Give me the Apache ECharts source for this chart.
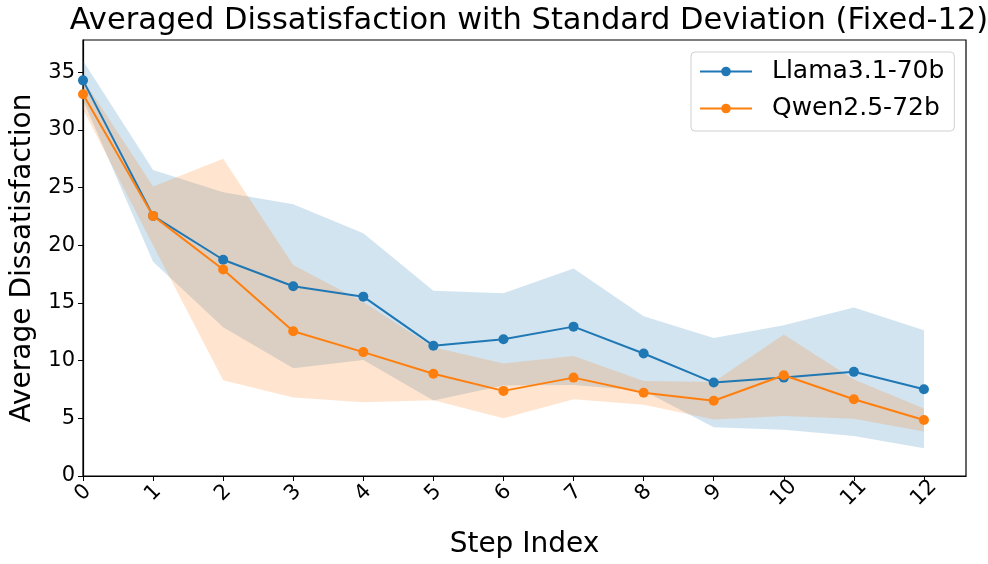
<!DOCTYPE html>
<html>
<head>
<meta charset="utf-8">
<script src="https://cdn.jsdelivr.net/npm/echarts@6/dist/echarts.min.js"></script>
<style>html,body{margin:0;padding:0;background:#fff}#c{width:988px;height:564px}</style>
</head>
<body>
<div id="c"></div>
<script>
const steps = [0,1,2,3,4,5,6,7,8,9,10,11,12];
const llamaMean = [34.3, 22.55, 18.75, 16.45, 15.55, 11.3, 11.85, 12.95, 10.62, 8.1, 8.53, 9.03, 7.52];
const llamaStd  = [1.7, 3.97, 5.85, 7.1, 5.5, 4.75, 4.0, 5.05, 3.22, 3.87, 4.53, 5.57, 5.11];
const qwenMean  = [33.1, 22.55, 17.9, 12.55, 10.74, 8.87, 7.38, 8.53, 7.21, 6.52, 8.73, 6.66, 4.85];
const qwenStd   = [1.3, 2.55, 9.6, 5.74, 4.35, 2.3, 2.38, 1.87, 1.03, 1.63, 3.53, 1.7, 1.0];
const xTicks = [0,1,2,3,4,5,6,7,8,9,10,11,12];
const yTicks = [0,5,10,15,20,25,30,35];

const FONT = 'DejaVu Sans';
const pair = (arr) => steps.map((s,i)=>[s, arr[i]]);

function band(name, m, s, color) {
  const data = steps.map((x,i)=>[x, m[i]-s[i], m[i]+s[i]]);
  return {
    name: name, type:'custom', silent:true, z:1,
    encode:{x:0, y:[1,2]},
    data: data,
    renderItem: function(params, api) {
      if (params.dataIndex !== 0) return null;
      const up = data.map(d => api.coord([d[0], d[2]]));
      const lo = data.map(d => api.coord([d[0], d[1]])).reverse();
      return {type:'polygon', shape:{points: up.concat(lo)}, style:{fill: color}};
    }
  };
}

const chart = echarts.init(document.getElementById('c'), null, {renderer:'canvas'});
chart.setOption({
  animation:false,
  backgroundColor:'#fff',
  title:{text:'Averaged Dissatisfaction with Standard Deviation (Fixed-12)', left:524, top:1, textAlign:'center',
    textStyle:{fontFamily:FONT, fontSize:30.5, fontWeight:'normal', color:'#000'}},
  grid:{left:83, right:22, top:40, bottom:85, show:true, borderColor:'#000', borderWidth:1.2, containLabel:false},
  legend:{data:['Llama3.1-70b','Qwen2.5-72b'], orient:'vertical', left:691, top:52,
    padding:[7,10,10,8], itemGap:12, itemWidth:52, itemHeight:12,
    borderColor:'#d0d0d0', borderWidth:1, borderRadius:4, backgroundColor:'rgba(255,255,255,0.8)',
    textStyle:{fontFamily:FONT, fontSize:25, color:'#000', padding:[0,0,0,15]}},
  xAxis:{type:'value', min:0, max:12.6, interval:1,
    name:'Step Index', nameLocation:'middle', nameGap:55,
    nameTextStyle:{fontFamily:FONT, fontSize:28, color:'#000'},
    axisLine:{show:true, lineStyle:{color:'#000', width:1.2}},
    axisTick:{show:true, length:5, lineStyle:{color:'#000'}, customValues:xTicks},
    axisLabel:{customValues:xTicks, rotate:45, align:'center', verticalAlign:'middle', margin:17,
      fontFamily:FONT, fontSize:21, color:'#000'},
    splitLine:{show:false}},
  yAxis:{type:'value', min:0, max:37.8, interval:5,
    name:'Average Dissatisfaction', nameLocation:'middle', nameGap:46,
    nameTextStyle:{fontFamily:FONT, fontSize:28, color:'#000'},
    axisLine:{show:true, lineStyle:{color:'#000', width:1.2}},
    axisTick:{show:true, length:5, lineStyle:{color:'#000'}, customValues:yTicks},
    axisLabel:{customValues:yTicks, margin:8, fontFamily:FONT, fontSize:21, color:'#000'},
    splitLine:{show:false}},
  series:[
    band('llamaBand', llamaMean, llamaStd, 'rgba(31,119,180,0.2)'),
    band('qwenBand', qwenMean, qwenStd, 'rgba(255,127,14,0.2)'),
    {name:'Llama3.1-70b', type:'line', data:pair(llamaMean), symbol:'circle', symbolSize:10,
     itemStyle:{color:'#1f77b4'}, lineStyle:{color:'#1f77b4', width:2}, z:5},
    {name:'Qwen2.5-72b', type:'line', data:pair(qwenMean), symbol:'circle', symbolSize:10,
     itemStyle:{color:'#ff7f0e'}, lineStyle:{color:'#ff7f0e', width:2}, z:6}
  ]
});
</script>
</body>
</html>
